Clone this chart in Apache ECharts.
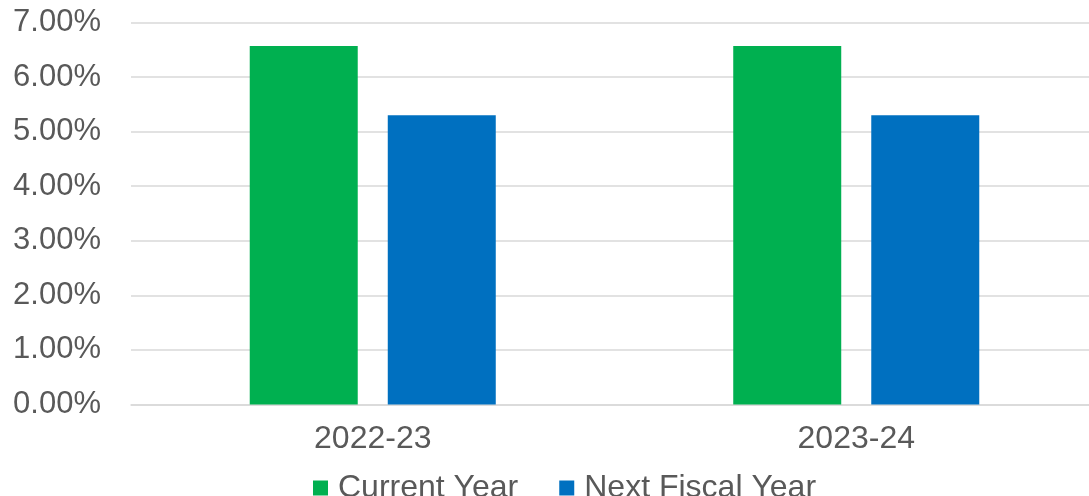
<!DOCTYPE html>
<html><head><meta charset="utf-8">
<script src="https://cdn.jsdelivr.net/npm/echarts@6/dist/echarts.min.js"></script>
<style>html,body{margin:0;padding:0;background:#fff}#c{width:1089px;height:496px}</style>
</head><body><div id="c"></div>
<script>
const categories = ['2022-23', '2023-24'];
const currentYear = [6.57, 6.57];
const nextFiscalYear = [5.30, 5.30];
const seriesNames = ['Current Year', 'Next Fiscal Year'];
const colors = ['#00B050', '#0070C0'];

const chart = echarts.init(document.getElementById('c'), null, {renderer: 'canvas'});
const font = 'Liberation Sans, Arial, sans-serif';
chart.setOption({
  animation: false,
  color: colors,
  grid: {left: 131, top: 22.5, width: 967, bottom: 91.5, containLabel: false, outerBoundsMode: 'none'},
  legend: {
    data: seriesNames, left: 308, top: 467, itemWidth: 15, itemHeight: 15, itemGap: 41,
    icon: 'rect',
    textStyle: {fontFamily: font, fontSize: 32, color: '#595959', padding: [0, 0, 0, 5]}
  },
  xAxis: {
    type: 'category', data: categories,
    axisLine: {show: true, lineStyle: {color: '#d9d9d9', width: 1.5}},
    axisTick: {show: false},
    axisLabel: {fontFamily: font, fontSize: 32, color: '#595959', margin: 19}
  },
  yAxis: {
    type: 'value', min: 0, max: 7, interval: 1,
    axisLine: {show: false}, axisTick: {show: false},
    splitLine: {lineStyle: {color: '#d9d9d9', width: 1.5}},
    axisLabel: {fontFamily: font, fontSize: 31, color: '#595959', margin: 30,
      formatter: v => v.toFixed(2) + '%'}
  },
  series: [
    {name: seriesNames[0], type: 'bar', data: currentYear, barWidth: 108, barGap: '27.8%'},
    {name: seriesNames[1], type: 'bar', data: nextFiscalYear, barWidth: 108, barGap: '27.8%'}
  ]
});
</script></body></html>
